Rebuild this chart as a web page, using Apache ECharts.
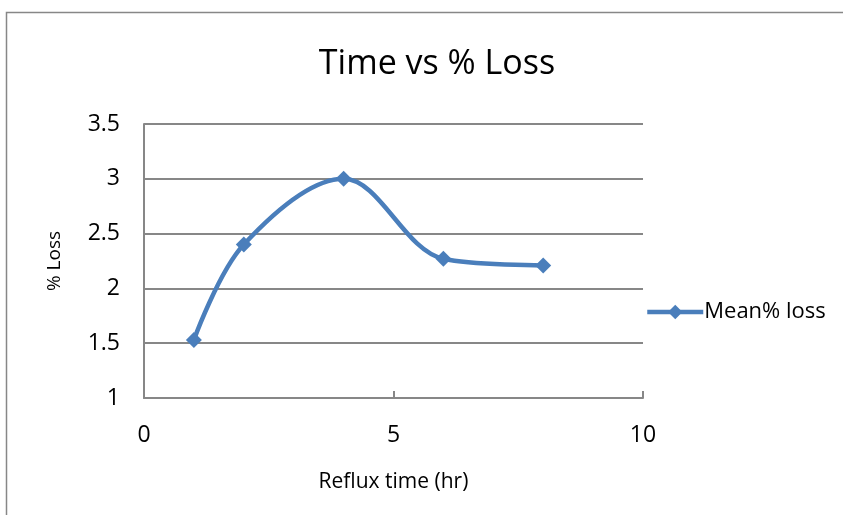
<!DOCTYPE html>
<html>
<head>
<meta charset="utf-8">
<script src="https://cdn.jsdelivr.net/npm/echarts@6/dist/echarts.min.js"></script>
<style>
  html, body { margin: 0; padding: 0; background: #fff; }
  #chart { width: 843px; height: 515px; }
</style>
</head>
<body>
<div id="chart"></div>
<script>
// Reflux time (hr) and mean % loss
const refluxTime = [1, 2, 4, 6, 8];
const meanLoss = [1.53, 2.40, 3.00, 2.27, 2.21];
const seriesName = 'Mean% loss';
const xTicks = { min: 0, max: 10, interval: 5 };
const yTicks = { min: 1, max: 3.5, interval: 0.5 };

const FONT = '"Open Sans", "DejaVu Sans", sans-serif';
const BLUE = '#4a7ebb';
const GRAY = '#878787';

const chart = echarts.init(document.getElementById('chart'));
chart.setOption({
  animation: false,
  backgroundColor: '#fff',
  graphic: [{
    type: 'rect',
    shape: { x: 6.5, y: 12.5, width: 860, height: 520 },
    style: { fill: 'none', stroke: GRAY, lineWidth: 1.5 },
    silent: true
  }],
  title: {
    text: 'Time vs % Loss',
    left: 432, top: 42, textAlign: 'center',
    textStyle: { fontFamily: FONT, fontSize: 34, fontWeight: 'normal', color: '#000' }
  },
  legend: {
    data: [seriesName],
    orient: 'vertical',
    left: 640, top: 296,
    itemWidth: 56, itemHeight: 18,
    itemGap: 4,
    lineStyle: { width: 4.5, color: BLUE },
    itemStyle: { color: BLUE },
    textStyle: { fontFamily: FONT, fontSize: 22, color: '#000', padding: [0, 0, 0, -4] }
  },
  grid: { left: 144, top: 124, width: 499, height: 274, containLabel: false },
  xAxis: {
    type: 'value',
    min: xTicks.min, max: xTicks.max, interval: xTicks.interval,
    name: 'Reflux time (hr)',
    nameLocation: 'middle', nameGap: 74,
    nameTextStyle: { fontFamily: FONT, fontSize: 21, color: '#000' },
    axisLine: { show: true, lineStyle: { color: GRAY, width: 2 } },
    axisTick: { show: true, inside: true, length: 7, lineStyle: { color: GRAY, width: 2 } },
    axisLabel: { fontFamily: FONT, fontSize: 23, color: '#000', margin: 26 },
    splitLine: { show: false }
  },
  yAxis: {
    type: 'value',
    min: yTicks.min, max: yTicks.max, interval: yTicks.interval,
    name: '% Loss',
    nameLocation: 'middle', nameGap: 80, nameRotate: 90,
    nameTextStyle: { fontFamily: FONT, fontSize: 19, color: '#000' },
    axisLine: { show: true, lineStyle: { color: GRAY, width: 2 } },
    axisTick: { show: false },
    axisLabel: { fontFamily: FONT, fontSize: 23, color: '#000', margin: 24 },
    splitLine: { show: true, lineStyle: { color: GRAY, width: 2 } }
  },
  series: [{
    name: seriesName,
    type: 'line',
    data: refluxTime.map((t, i) => [t, meanLoss[i]]),
    smooth: 0.35,
    symbol: 'diamond',
    symbolSize: 16,
    lineStyle: { color: BLUE, width: 4.5 },
    itemStyle: { color: BLUE },
    z: 3
  }]
});
</script>
</body>
</html>
